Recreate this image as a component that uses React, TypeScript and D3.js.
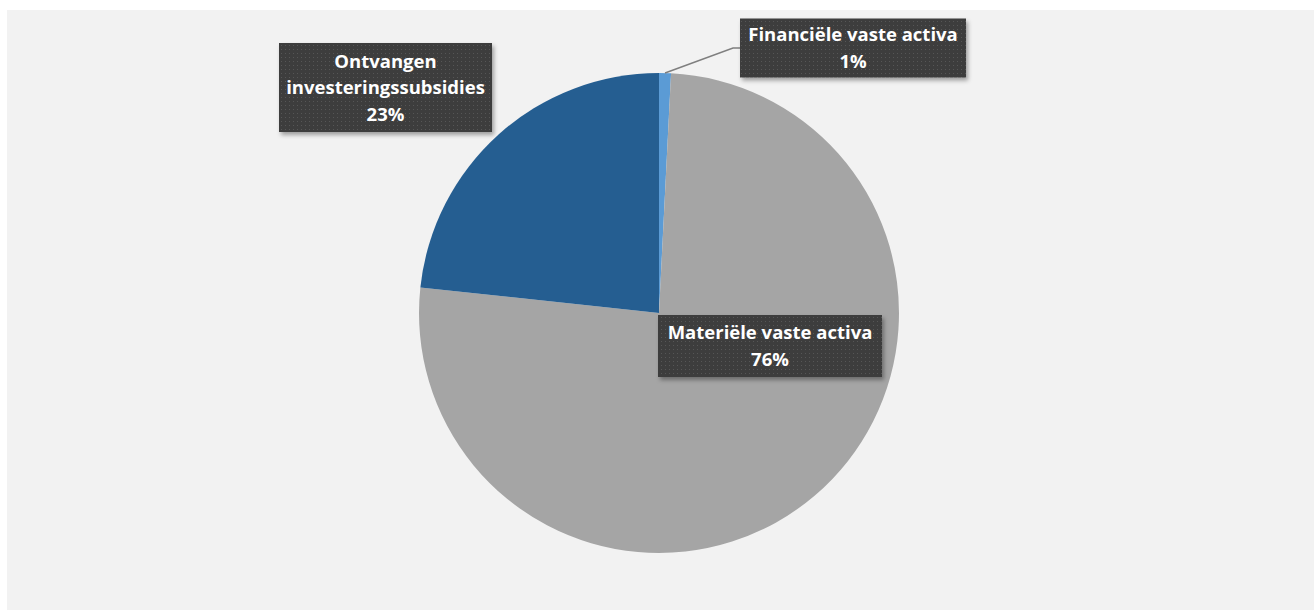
import * as d3 from "d3";

// chart data
const categories = ["Financiële vaste activa", "Materiële vaste activa", "Ontvangen investeringssubsidies"];
const values = [0.8, 75.9, 23.3];
const colors = ["#5b9bd5", "#a5a5a5", "#255e91"];

// label text lines (without the percentage) per slice
const labelLines = [["Financiële vaste activa"], ["Materiële vaste activa"], ["Ontvangen", "investeringssubsidies"]];

const width = 1314;
const height = 610;
const cx = 659;
const cy = 313;
const radius = 240;

// label box layout: center + size, relative to the page
const labelBoxes = [
  { x: 853, y: 48, w: 226, h: 59 },
  { x: 770, y: 346, w: 224, h: 62 },
  { x: 385.5, y: 87.5, w: 213, h: 89 },
];

export default function App() {
  const total = d3.sum(values);
  const pie = d3
    .pie<number>()
    .sort(null)
    .value((d) => d);
  const arcs = pie(values);
  const arc = d3.arc<d3.PieArcDatum<number>>().innerRadius(0).outerRadius(radius);

  // leader line for the small slice
  const small = arcs[0];
  const mid = (small.startAngle + small.endAngle) / 2;
  const p0: [number, number] = [cx + Math.sin(mid) * radius, cy - Math.cos(mid) * radius];
  const box0 = labelBoxes[0];
  const leader = d3.line()([
    p0,
    [box0.x - box0.w / 2 - 7, box0.y],
    [box0.x - box0.w / 2, box0.y],
  ]);

  const lineH = 26.5;

  return (
    <svg
      width={width}
      height={height}
      style={{ position: "absolute", left: 0, top: 0 }}
      fontFamily="'Open Sans', sans-serif"
    >
      <defs>
        <pattern id="dots" width={4} height={4} patternUnits="userSpaceOnUse">
          <rect width={4} height={4} fill="#3d3d3d" />
          <rect x={1} y={1} width={1} height={1} fill="#565656" />
        </pattern>
        <filter id="shadow" x="-10%" y="-20%" width="130%" height="150%">
          <feDropShadow dx={2} dy={3} stdDeviation={2} floodColor="#000" floodOpacity={0.35} />
        </filter>
      </defs>
      <rect width={width} height={height} fill="#ffffff" />
      <rect x={7} y={10} width={width - 7} height={height - 10} fill="#f2f2f2" />

      <g transform={`translate(${cx},${cy})`}>
        {arcs.map((a, i) => (
          <path key={i} d={arc(a) || ""} fill={colors[i]} />
        ))}
      </g>

      <path d={leader || ""} fill="none" stroke="#7f7f7f" strokeWidth={1.5} />

      {arcs.map((a, i) => {
        const b = labelBoxes[i];
        const lines = [...labelLines[i], `${Math.round((values[i] / total) * 100)}%`];
        const startY = b.y - ((lines.length - 1) * lineH) / 2;
        return (
          <g key={categories[i]}>
            <rect
              x={b.x - b.w / 2}
              y={b.y - b.h / 2}
              width={b.w}
              height={b.h}
              fill="url(#dots)"
              filter="url(#shadow)"
            />
            {lines.map((t, j) => (
              <text
                key={j}
                x={b.x}
                y={startY + j * lineH}
                dy="0.36em"
                textAnchor="middle"
                fill="#ffffff"
                fontWeight="bold"
                fontSize={18.5}
              >
                {t}
              </text>
            ))}
          </g>
        );
      })}
    </svg>
  );
}
